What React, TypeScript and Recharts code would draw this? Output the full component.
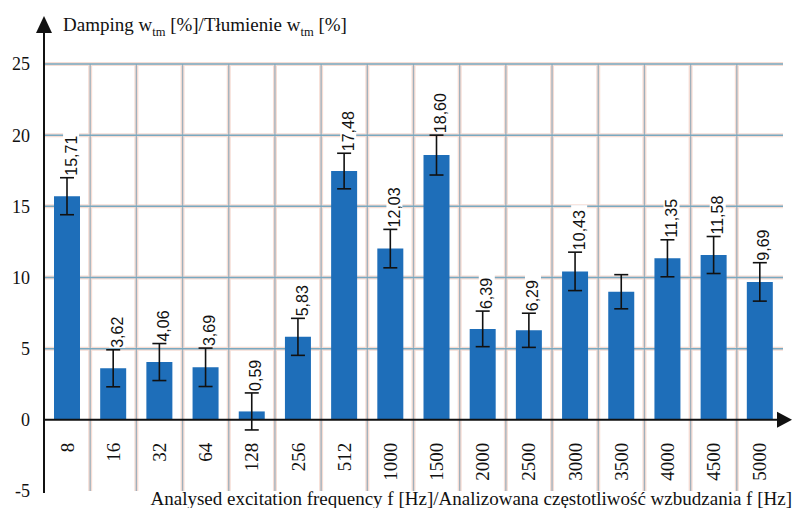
import React from "react";
import {
  ComposedChart,
  Bar,
  Line,
  XAxis,
  YAxis,
  CartesianGrid,
  ErrorBar,
  LabelList,
  ReferenceLine,
} from "recharts";

// Excitation frequencies [Hz]
const frequencies = ["8", "16", "32", "64", "128", "256", "512", "1000", "1500", "2000", "2500", "3000", "3500", "4000", "4500", "5000"];
// Mean damping w_tm [%]
const damping = [15.71, 3.62, 4.06, 3.69, 0.59, 5.83, 17.48, 12.03, 18.6, 6.39, 6.29, 10.43, 9.0, 11.35, 11.58, 9.69];
// Spread of each measurement series [%]
const spread = [1.3, 1.3, 1.3, 1.35, 1.3, 1.3, 1.25, 1.35, 1.4, 1.25, 1.2, 1.35, 1.2, 1.3, 1.3, 1.35];
// Frequencies whose value is not annotated
const unlabelled = ["3500"];
const yTicks = [-5, 0, 5, 10, 15, 20, 25];
const gridValues = [5, 10, 15, 20, 25];

const yTitleParts = ["Damping w", "tm", " [%]/Tłumienie w", "tm", " [%]"];
const xTitle = "Analysed excitation frequency f [Hz]/Analizowana częstotliwość wzbudzania f [Hz]";

const W = 793;
const H = 508;
const X_AXIS_H = 17;
const MARGIN = { top: 64, right: 10, bottom: 0, left: 0 };
const Y_AXIS_W = 44;
const PLOT_H = H - MARGIN.top - MARGIN.bottom - X_AXIS_H;
const PX_PER_UNIT = PLOT_H / (yTicks[yTicks.length - 1] - yTicks[0]);

const SERIF = "'Liberation Serif', 'Times New Roman', serif";
const SANS = "'Liberation Sans', Arial, sans-serif";

const data = frequencies.map((f, i) => ({
  freq: f,
  value: damping[i],
  err: spread[i],
  top: damping[i] + spread[i],
  label: unlabelled.includes(f) ? null : damping[i].toFixed(2).replace(".", ","),
}));

const ValueLabel = (props: any) => {
  const { x, y, value } = props;
  if (value == null) return null;
  const cx = x + 4;
  const bottom = y - 2;
  const len = String(value).length * 8.6;
  return (
    <g>
      <rect x={cx - 8} y={bottom - len - 2} width={16} height={len + 2} fill="#ffffff" />
      <text
        x={cx}
        y={bottom}
        transform={`rotate(-90, ${cx}, ${bottom})`}
        textAnchor="start"
        dominantBaseline="central"
        fontFamily={SANS}
        fontSize={16}
        fill="#111"
      >
        {value}
      </text>
    </g>
  );
};

const CategoryTick = (props: any) => {
  const { x, y, payload } = props;
  // zero line sits five units above the bottom of the plot
  const ty = y - 5 * PX_PER_UNIT + 21;
  return (
    <text
      x={x}
      y={ty}
      transform={`rotate(-90, ${x}, ${ty})`}
      textAnchor="end"
      dominantBaseline="central"
      fontFamily={SERIF}
      fontSize={19}
      fill="#111"
    >
      {payload.value}
    </text>
  );
};

const YAxisDecor = (props: any) => {
  const { viewBox } = props;
  const ax = viewBox.x + viewBox.width;
  const top = viewBox.y;
  const bottom = viewBox.y + viewBox.height;
  return (
    <g>
      <line x1={ax} y1={top - 32} x2={ax} y2={bottom + 2} stroke="#111" strokeWidth={2} />
      <polygon points={`${ax},${top - 48} ${ax - 8},${top - 31} ${ax + 8},${top - 31}`} fill="#111" />
      <text x={ax + 19} y={top - 33} fontFamily={SERIF} fontSize={19} fill="#111">
        <tspan>{yTitleParts[0]}</tspan>
        <tspan fontSize={12.5} dy={5}>{yTitleParts[1]}</tspan>
        <tspan dy={-5}>{yTitleParts[2]}</tspan>
        <tspan fontSize={12.5} dy={5}>{yTitleParts[3]}</tspan>
        <tspan dy={-5}>{yTitleParts[4]}</tspan>
      </text>
    </g>
  );
};

const XAxisTitle = (props: any) => {
  const { viewBox } = props;
  return (
    <text
      x={viewBox.x + viewBox.width + 9}
      y={viewBox.y + 14}
      textAnchor="end"
      fontFamily={SERIF}
      fontSize={19}
      fill="#111"
    >
      {xTitle}
    </text>
  );
};

const XArrow = (props: any) => {
  const { viewBox } = props;
  const end = viewBox.x + viewBox.width;
  const y = viewBox.y;
  return (
    <polygon points={`${end + 9},${y} ${end - 6},${y - 8} ${end - 6},${y + 8}`} fill="#111" />
  );
};

const boundaries = ({ offset }: any) =>
  frequencies.slice(1).map((_, i) => offset.left + ((i + 1) * offset.width) / frequencies.length);

export default function App() {
  return (
    <div style={{ position: "absolute", left: 0, top: 0, width: W, height: H, background: "#fff" }}>
      <ComposedChart width={W} height={H} data={data} margin={MARGIN}>
        <CartesianGrid horizontal={false} vertical verticalCoordinatesGenerator={boundaries} stroke="#f6ddd4" strokeWidth={4} />
        <CartesianGrid vertical={false} horizontal horizontalValues={gridValues} stroke="#f6ddd4" strokeWidth={4} />
        <CartesianGrid horizontal={false} vertical verticalCoordinatesGenerator={boundaries} stroke="#9fb0bc" strokeWidth={1.3} />
        <CartesianGrid vertical={false} horizontal horizontalValues={gridValues} stroke="#78a9c1" strokeWidth={1.5} />
        <XAxis
          dataKey="freq"
          axisLine={false}
          tickLine={false}
          tickSize={0}
          height={X_AXIS_H}
          interval={0}
          tick={<CategoryTick />}
          label={<XAxisTitle />}
        />
        <YAxis
          type="number"
          domain={[yTicks[0], yTicks[yTicks.length - 1]]}
          ticks={yTicks}
          width={Y_AXIS_W}
          axisLine={false}
          tickLine={false}
          tickSize={6}
          tickMargin={8}
          tick={{ fontFamily: SERIF, fontSize: 18, fill: "#111" }}
          label={<YAxisDecor />}
        />
        <Bar dataKey="value" fill="#1e6eb9" barSize={26} isAnimationActive={false}>
          <ErrorBar dataKey="err" width={7} stroke="#111" strokeWidth={1.6} />
        </Bar>
        <Line dataKey="top" stroke="none" dot={false} activeDot={false} legendType="none" isAnimationActive={false}>
          <LabelList dataKey="label" content={<ValueLabel />} />
        </Line>
        <ReferenceLine y={0} stroke="#111" strokeWidth={2} label={<XArrow />} />
      </ComposedChart>
    </div>
  );
}
